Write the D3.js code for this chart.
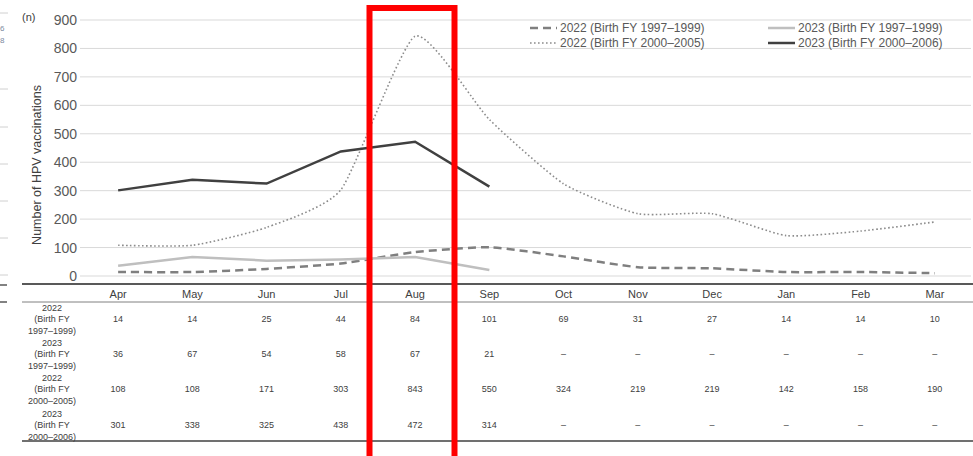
<!DOCTYPE html>
<html>
<head>
  <meta charset="utf-8">
  <script src="https://d3js.org/d3.v7.min.js"></script>
  <style>
    body { margin: 0; background: #fff; }
    svg { display: block; font-family: "Liberation Sans", Arial, sans-serif; }
  </style>
</head>
<body>
<script>
  // chart values
  var months = ["Apr", "May", "Jun", "Jul", "Aug", "Sep", "Oct", "Nov", "Dec", "Jan", "Feb", "Mar"];
  var yTicks = [0, 100, 200, 300, 400, 500, 600, 700, 800, 900];

  var v2022old = [14, 14, 25, 44, 84, 101, 69, 31, 27, 14, 14, 10];
  var v2023old = [36, 67, 54, 58, 67, 21, null, null, null, null, null, null];
  var v2022new = [108, 108, 171, 303, 843, 550, 324, 219, 219, 142, 158, 190];
  var v2023new = [301, 338, 325, 438, 472, 314, null, null, null, null, null, null];

  var seriesNames = [
    "2022 (Birth FY 1997\u20131999)",
    "2023 (Birth FY 1997\u20131999)",
    "2022 (Birth FY 2000\u20132005)",
    "2023 (Birth FY 2000\u20132006)"
  ];
  var rowLabels = [
    ["2022", "(Birth FY", "1997\u20131999)"],
    ["2023", "(Birth FY", "1997\u20131999)"],
    ["2022", "(Birth FY", "2000\u20132005)"],
    ["2023", "(Birth FY", "2000\u20132006)"]
  ];

  var W = 973, H = 456;
  var svg = d3.select("body").append("svg")
    .attr("width", W)
    .attr("height", H);

  var x = d3.scalePoint().domain(months).range([81, 972]).padding(0.5);
  var y = d3.scaleLinear().domain([0, 900]).range([276, 20]);

  // bits of the neighbouring figure cut off at the left edge
  [13, 89, 127, 164, 201, 238, 275].forEach(function (yy) {
    svg.append("line").attr("x1", 0).attr("x2", 8).attr("y1", yy).attr("y2", yy)
      .attr("stroke", "#d0d0d0").attr("stroke-width", 1);
  });
  [285, 302].forEach(function (yy) {
    svg.append("line").attr("x1", 0).attr("x2", 7).attr("y1", yy).attr("y2", yy)
      .attr("stroke", "#595959").attr("stroke-width", 1.5);
  });
  svg.append("text").attr("x", 0).attr("y", 31).attr("font-size", 8).attr("fill", "#7a8aa0").text("6");
  svg.append("text").attr("x", 0).attr("y", 43).attr("font-size", 8).attr("fill", "#7a8aa0").text("8");

  // gridlines
  svg.append("g").selectAll("line")
    .data(yTicks)
    .enter().append("line")
    .attr("x1", 80).attr("x2", 971)
    .attr("y1", function (d) { return y(d); })
    .attr("y2", function (d) { return y(d); })
    .attr("stroke", "#d9d9d9")
    .attr("stroke-width", 1);

  // y axis labels
  var yAxis = svg.append("g")
    .attr("transform", "translate(77,0)")
    .call(d3.axisLeft(y).tickValues(yTicks).tickSize(0).tickPadding(0));
  yAxis.select(".domain").remove();
  yAxis.selectAll("text")
    .attr("font-family", "Liberation Sans, Arial, sans-serif")
    .attr("font-size", 14)
    .attr("fill", "#595959");

  svg.append("text")
    .attr("x", 22).attr("y", 21)
    .attr("font-size", 11)
    .attr("fill", "#404040")
    .text("(n)");

  svg.append("text")
    .attr("transform", "translate(41,165) rotate(-90)")
    .attr("text-anchor", "middle")
    .attr("font-size", 12.5)
    .attr("fill", "#404040")
    .text("Number of HPV vaccinations");

  // lines
  var smooth = d3.curveCardinal.tension(0.45);
  var styles = [
    { data: v2022old, color: "#7f7f7f", width: 2.5, dash: "8,5", curve: smooth },
    { data: v2023old, color: "#bfbfbf", width: 2.5, dash: null, curve: d3.curveLinear },
    { data: v2022new, color: "#8c8c8c", width: 1.6, dash: "1.6,2.4", curve: smooth },
    { data: v2023new, color: "#404040", width: 2.5, dash: null, curve: d3.curveLinear }
  ];

  styles.forEach(function (s) {
    var line = d3.line()
      .defined(function (d) { return d != null; })
      .x(function (d, i) { return x(months[i]); })
      .y(function (d) { return y(d); })
      .curve(s.curve);
    svg.append("path")
      .datum(s.data)
      .attr("d", line)
      .attr("fill", "none")
      .attr("stroke", s.color)
      .attr("stroke-width", s.width)
      .attr("stroke-dasharray", s.dash);
  });

  // legend
  var legendPos = [[530, 28], [768, 28], [530, 43], [768, 43]];
  styles.forEach(function (s, i) {
    var p = legendPos[i];
    svg.append("line")
      .attr("x1", p[0]).attr("x2", p[0] + 27)
      .attr("y1", p[1]).attr("y2", p[1])
      .attr("stroke", s.color)
      .attr("stroke-width", s.width)
      .attr("stroke-dasharray", s.dash);
    svg.append("text")
      .attr("x", p[0] + 30).attr("y", p[1] + 4)
      .attr("font-size", 12)
      .attr("fill", "#595959")
      .text(seriesNames[i]);
  });

  // table rules
  svg.append("line").attr("x1", 22).attr("x2", W).attr("y1", 284).attr("y2", 284)
    .attr("stroke", "#595959").attr("stroke-width", 2);
  svg.append("line").attr("x1", 22).attr("x2", W).attr("y1", 302).attr("y2", 302)
    .attr("stroke", "#808080").attr("stroke-width", 1);
  svg.append("line").attr("x1", 22).attr("x2", W).attr("y1", 441).attr("y2", 441)
    .attr("stroke", "#707070").attr("stroke-width", 2);

  // month header
  svg.append("g").selectAll("text")
    .data(months)
    .enter().append("text")
    .attr("x", function (d) { return x(d); })
    .attr("y", 298)
    .attr("text-anchor", "middle")
    .attr("font-size", 11)
    .attr("fill", "#404040")
    .text(function (d) { return d; });

  // table body
  var rows = [v2022old, v2023old, v2022new, v2023new];
  var rowY = [319, 354, 389, 425];
  rows.forEach(function (r, ri) {
    var g = svg.append("g");
    rowLabels[ri].forEach(function (t, li) {
      g.append("text")
        .attr("x", 52)
        .attr("y", rowY[ri] + (li - 1) * 11.5 + 3)
        .attr("text-anchor", "middle")
        .attr("font-size", 9)
        .attr("fill", "#404040")
        .text(t);
    });
    g.selectAll(".val")
      .data(r)
      .enter().append("text")
      .attr("class", "val")
      .attr("x", function (d, i) { return x(months[i]); })
      .attr("y", rowY[ri] + 3)
      .attr("text-anchor", "middle")
      .attr("font-size", 9)
      .attr("fill", "#404040")
      .text(function (d) { return d == null ? "\u2013" : d; });
  });

  // red highlight box around August
  svg.append("rect")
    .attr("x", 369.5).attr("y", 8)
    .attr("width", 85).attr("height", 452)
    .attr("fill", "none")
    .attr("stroke", "#ff0000")
    .attr("stroke-width", 6);
</script>
</body>
</html>
